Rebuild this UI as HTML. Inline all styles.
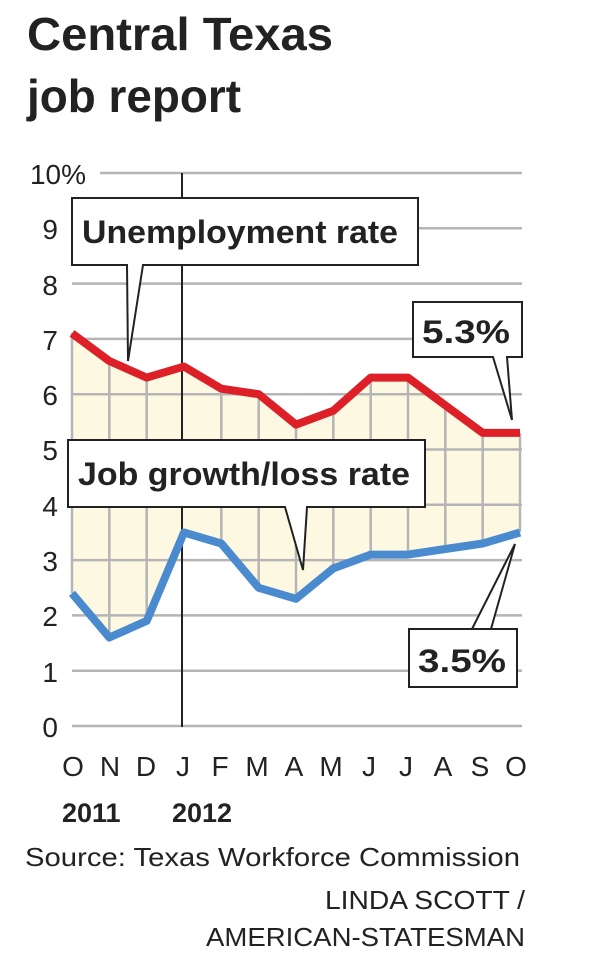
<!DOCTYPE html>
<html><head><style>
body{margin:0;background:#fff;}
svg{display:block;font-family:"Liberation Sans",sans-serif;}
</style></head><body>
<svg width="615" height="954" viewBox="0 0 615 954">
<text x="27" y="50" font-size="46" font-weight="bold" fill="#222" textLength="306" lengthAdjust="spacingAndGlyphs">Central Texas</text>
<text x="27" y="112" font-size="46" font-weight="bold" fill="#222" textLength="214" lengthAdjust="spacingAndGlyphs">job report</text>
<polygon fill="#fdf8e1" points="72,333.4 109.3,361 146.7,377.6 184,366.6 221.3,388.7 258.7,394.2 296,424.6 333.3,410.8 370.7,377.6 408,377.6 445.3,405.3 482.7,432.9 520,432.9 520,532.5 482.7,543.5 445.3,549 408,554.6 370.7,554.6 333.3,568.4 296,598.8 258.7,587.8 221.3,543.5 184,532.5 146.7,620.9 109.3,637.5 72,593.3"/>
<g stroke="#b5b5b5" stroke-width="2.5">
<line x1="100" y1="173" x2="522" y2="173"/>
<line x1="72" y1="228.3" x2="522" y2="228.3"/>
<line x1="72" y1="283.6" x2="522" y2="283.6"/>
<line x1="72" y1="338.9" x2="522" y2="338.9"/>
<line x1="72" y1="394.2" x2="522" y2="394.2"/>
<line x1="72" y1="449.5" x2="522" y2="449.5"/>
<line x1="72" y1="504.8" x2="522" y2="504.8"/>
<line x1="72" y1="560.1" x2="522" y2="560.1"/>
<line x1="72" y1="615.4" x2="522" y2="615.4"/>
<line x1="72" y1="670.7" x2="522" y2="670.7"/>
<line x1="72" y1="726" x2="522" y2="726"/>
<line x1="72" y1="333" x2="72" y2="593"/>
<line x1="109.3" y1="361" x2="109.3" y2="637"/>
<line x1="146.7" y1="377" x2="146.7" y2="621"/>
<line x1="221.3" y1="388" x2="221.3" y2="543"/>
<line x1="258.7" y1="394" x2="258.7" y2="588"/>
<line x1="296" y1="424" x2="296" y2="599"/>
<line x1="333.3" y1="410" x2="333.3" y2="568"/>
<line x1="370.7" y1="377" x2="370.7" y2="555"/>
<line x1="408" y1="377" x2="408" y2="555"/>
<line x1="445.3" y1="405" x2="445.3" y2="549"/>
<line x1="482.7" y1="433" x2="482.7" y2="543"/>
<line x1="520" y1="433" x2="520" y2="532"/>
</g>
<line x1="182" y1="173" x2="182" y2="727" stroke="#222" stroke-width="2"/>
<polyline fill="none" stroke="#dd2027" stroke-width="8" stroke-linejoin="round" points="72,333.4 109.3,361 146.7,377.6 184,366.6 221.3,388.7 258.7,394.2 296,424.6 333.3,410.8 370.7,377.6 408,377.6 445.3,405.3 482.7,432.9 520,432.9"/>
<polyline fill="none" stroke="#4a8bd0" stroke-width="8" stroke-linejoin="round" points="72,593.3 109.3,637.5 146.7,620.9 184,532.5 221.3,543.5 258.7,587.8 296,598.8 333.3,568.4 370.7,554.6 408,554.6 445.3,549 482.7,543.5 520,532.5"/>
<g font-size="28" fill="#222" text-anchor="end">
<text x="86" y="184">10%</text>
<text x="58" y="239">9</text><text x="58" y="295">8</text><text x="58" y="350">7</text>
<text x="58" y="405">6</text><text x="58" y="460">5</text><text x="58" y="516">4</text>
<text x="58" y="571">3</text><text x="58" y="626">2</text><text x="58" y="682">1</text>
<text x="58" y="737">0</text>
</g>
<g font-size="28" fill="#222" text-anchor="middle">
<text x="73" y="776">O</text><text x="110" y="776">N</text><text x="146" y="776">D</text>
<text x="183" y="776">J</text><text x="220" y="776">F</text><text x="257" y="776">M</text>
<text x="294" y="776">A</text><text x="331" y="776">M</text><text x="369" y="776">J</text>
<text x="406" y="776">J</text><text x="443" y="776">A</text><text x="480" y="776">S</text>
<text x="516" y="776">O</text>
</g>
<text x="62" y="822" font-size="27" font-weight="bold" fill="#222">2011</text>
<text x="172" y="822" font-size="27" font-weight="bold" fill="#222">2012</text>
<text x="25" y="866" font-size="26" fill="#222" textLength="495" lengthAdjust="spacingAndGlyphs">Source: Texas Workforce Commission</text>
<text x="325" y="909" font-size="26" fill="#222" textLength="200" lengthAdjust="spacingAndGlyphs">LINDA SCOTT /</text>
<text x="206" y="946" font-size="26" fill="#222" textLength="319" lengthAdjust="spacingAndGlyphs">AMERICAN-STATESMAN</text>
<g stroke="#222" stroke-width="2" fill="#fff">
<path d="M72,198 H418 V265 H143 L128,361 L127,265 H72 Z"/>
<path d="M68,440 H425 V507 H307 L303,570 L285,507 H68 Z"/>
<path d="M413,302 H522 V357 H507 L512,420 L493,357 H413 Z"/>
<path d="M409,629 H517 V687 H409 V629 H472 L515,544 L491,629"/>
</g>
<g font-size="32" font-weight="bold" fill="#222">
<text x="82" y="243" textLength="316" lengthAdjust="spacingAndGlyphs">Unemployment rate</text>
<text x="78" y="485" textLength="332" lengthAdjust="spacingAndGlyphs">Job growth/loss rate</text>
<text x="422" y="343" textLength="88" lengthAdjust="spacingAndGlyphs">5.3%</text>
<text x="418" y="672" textLength="88" lengthAdjust="spacingAndGlyphs">3.5%</text>
</g>
</svg>
</body></html>
